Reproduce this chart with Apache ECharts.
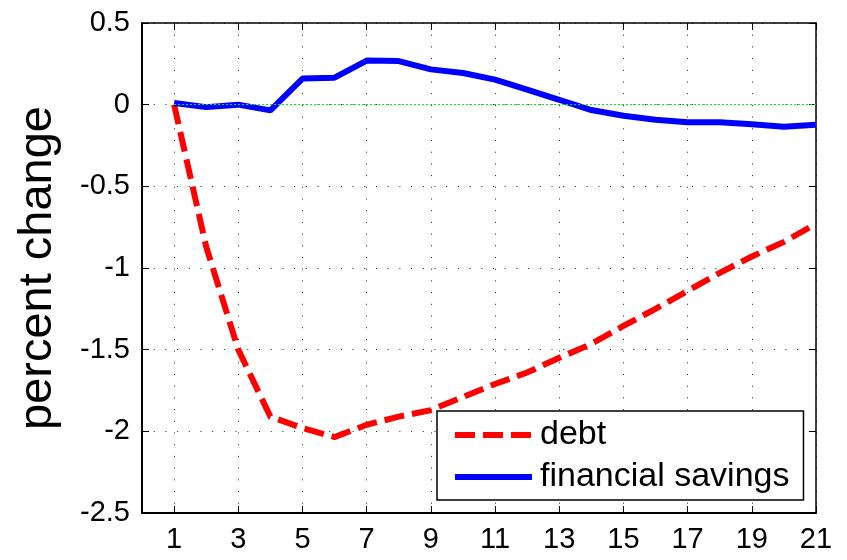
<!DOCTYPE html>
<html>
<head>
<meta charset="utf-8">
<script src="https://cdn.jsdelivr.net/npm/echarts@6/dist/echarts.min.js"></script>
<style>
html,body{margin:0;padding:0;background:#fff;}
#chart{width:847px;height:560px;}
</style>
</head>
<body>
<div id="chart"></div>
<script>
// ---- data ----
const periods = [1,2,3,4,5,6,7,8,9,10,11,12,13,14,15,16,17,18,19,20,21];
const debt = [0.0,-0.87,-1.50,-1.91,-1.98,-2.035,-1.96,-1.91,-1.87,-1.79,-1.71,-1.64,-1.55,-1.465,-1.355,-1.25,-1.14,-1.03,-0.93,-0.84,-0.73];
const financialSavings = [0.01,-0.015,0.0,-0.035,0.16,0.165,0.27,0.267,0.216,0.194,0.153,0.092,0.03,-0.033,-0.068,-0.092,-0.108,-0.108,-0.12,-0.135,-0.123];
const xTicks = [1,3,5,7,9,11,13,15,17,19,21];
const yLabel = 'percent change';
const seriesNames = ['debt','financial savings'];

const FONT = '"Liberation Sans", Arial, sans-serif';
const pair = (xs, ys) => xs.map((x, i) => [x, ys[i]]);

const gridDots = {show:true, lineStyle:{color:'#222', width:1, type:[1,10.7]}};

const chart = echarts.init(document.getElementById('chart'), null, {renderer:'canvas'});
chart.setOption({
  animation:false,
  backgroundColor:'#fff',
  grid:{left:142, right:31, top:23, bottom:47, containLabel:false},
  xAxis:[{
    type:'value', min:0, max:21, position:'bottom',
    axisLine:{show:true, onZero:false, lineStyle:{color:'#000', width:2}},
    axisTick:{show:true, inside:true, length:7, customValues:xTicks, lineStyle:{color:'#000', width:1}},
    axisLabel:{show:true, customValues:xTicks, margin:12, color:'#000', fontSize:29, fontFamily:FONT},
    splitLine:gridDots
  },{
    type:'value', min:0, max:21, position:'top',
    axisLine:{show:true, onZero:false, lineStyle:{color:'#000', width:1.5}},
    axisTick:{show:true, inside:true, length:7, customValues:xTicks, lineStyle:{color:'#000', width:1}},
    axisLabel:{show:false},
    splitLine:{show:false}
  }],
  yAxis:[{
    type:'value', min:-2.5, max:0.5, interval:0.5, position:'left',
    name:yLabel, nameLocation:'middle', nameGap:80, nameRotate:90,
    nameTextStyle:{color:'#000', fontSize:47, fontFamily:FONT},
    axisLine:{show:true, onZero:false, lineStyle:{color:'#000', width:2}},
    axisTick:{show:true, inside:true, length:7, lineStyle:{color:'#000', width:1}},
    axisLabel:{show:true, margin:12, color:'#000', fontSize:29, fontFamily:FONT},
    splitLine:gridDots
  },{
    type:'value', min:-2.5, max:0.5, interval:0.5, position:'right',
    axisLine:{show:true, onZero:false, lineStyle:{color:'#000', width:1.5}},
    axisTick:{show:true, inside:true, length:7, lineStyle:{color:'#000', width:1}},
    axisLabel:{show:false},
    splitLine:{show:false}
  }],
  legend:{
    data:seriesNames,
    orient:'vertical',
    left:437, top:411,
    padding:[6,14,5,15],
    itemGap:6,
    itemWidth:77, itemHeight:2,
    lineStyle:{width:'inherit', type:'inherit'},
    borderColor:'#000', borderWidth:1.5, backgroundColor:'#fff',
    textStyle:{color:'#000', fontSize:34, fontFamily:FONT, lineHeight:36, padding:[0,0,0,3]}
  },
  series:[{
    name:seriesNames[0], type:'line', data:pair(periods, debt),
    showSymbol:false, symbol:'none',
    lineStyle:{color:'#ff0000', width:6, type:[20,8], cap:'butt', join:'miter'},
    itemStyle:{color:'#ff0000'}, z:3
  },{
    name:seriesNames[1], type:'line', data:pair(periods, financialSavings),
    showSymbol:false, symbol:'none',
    lineStyle:{color:'#0000ff', width:6, type:'solid'},
    itemStyle:{color:'#0000ff'}, z:3
  },{
    name:'zero', type:'line', data:[], z:4, silent:true,
    markLine:{
      silent:true, symbol:['none','none'], label:{show:false}, animation:false,
      lineStyle:{color:'#00ee00', width:1, type:[2,2]},
      data:[[{coord:[periods[0],0]},{coord:[periods[periods.length-1],0]}]]
    }
  }]
});
</script>
</body>
</html>
